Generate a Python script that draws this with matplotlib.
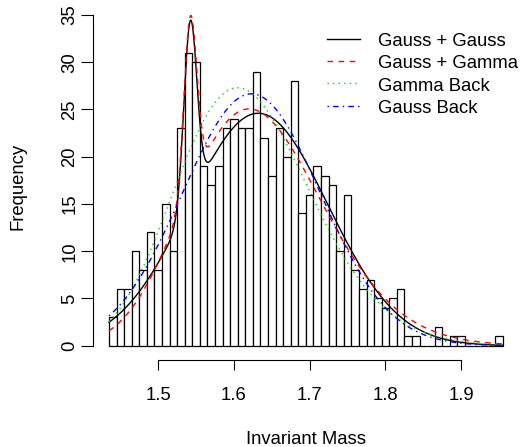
import math
import numpy as np
import matplotlib
matplotlib.use("Agg")
import matplotlib.pyplot as plt
from matplotlib.lines import Line2D

plt.rcParams['font.family'] = ['Liberation Sans', 'DejaVu Sans']
plt.rcParams['font.size'] = 13.3

# Histogram of invariant mass, bins of width 0.01 starting at 1.435
bin_start = 1.435
bin_width = 0.01
counts = [3, 6, 6, 10, 8, 12, 8, 15, 10, 23,
          31, 30, 19, 17, 19, 23, 24, 23, 23, 29,
          22, 18, 23, 20, 28, 14, 16, 19, 18, 17,
          10, 16, 8, 6, 7, 5, 4, 5, 6, 1,
          1, 0, 0, 2, 0, 1, 1, 0, 0, 0, 0, 1]

# Fitted models (signal + background), densities scaled to counts
gg_weights = [0.067, 0.933]
gg_means = [1.5423, 1.632]
gg_sds = [0.0085, 0.092]

gga_weight = 0.064          # signal fraction
gga_mean, gga_sd = 1.5423, 0.0085
gga_shape, gga_scale, gga_loc = 35.0, 0.0155, 1.093

gb_shape, gb_scale, gb_loc = 35.0, 0.0152, 1.088   # gamma background only
nb_mean, nb_sd = 1.623, 0.091                      # gauss background only

labels = ["Gauss + Gauss", "Gauss + Gamma", "Gamma Back", "Gauss Back"]
colors = ["black", "red", "#00dd00", "blue"]
styles = ["-", (0, (4, 4)), (0, (1, 3)), (0, (1, 3, 4, 3))]


def gauss(x, mu, sd):
    return np.exp(-0.5 * ((x - mu) / sd) ** 2) / (sd * math.sqrt(2 * math.pi))


def gamma_pdf(x, k, theta, loc):
    y = np.clip(x - loc, 1e-12, None)
    logf = (k - 1) * np.log(y) - y / theta - math.lgamma(k) - k * math.log(theta)
    return np.exp(logf)


counts = np.array(counts)
edges = bin_start + bin_width * np.arange(len(counts))
scale = counts.sum() * bin_width
xs = np.linspace(bin_start, bin_start + bin_width * len(counts), 600)

curves = [
    scale * sum(w * gauss(xs, m, s) for w, m, s in zip(gg_weights, gg_means, gg_sds)),
    scale * (gga_weight * gauss(xs, gga_mean, gga_sd)
             + (1 - gga_weight) * gamma_pdf(xs, gga_shape, gga_scale, gga_loc)),
    scale * gamma_pdf(xs, gb_shape, gb_scale, gb_loc),
    scale * gauss(xs, nb_mean, nb_sd),
]

W, H = 522, 447
fig = plt.figure(figsize=(W / 100, H / 100), dpi=100)
ax = fig.add_axes([93.3 / W, 1 - 360 / H, (518.4 - 93.3) / W, (360 - 5.5) / H])

ax.bar(edges, counts, width=bin_width, align='edge', facecolor='white',
       edgecolor='black', linewidth=0.9)
for y, c, ls in zip(curves, colors, styles):
    ax.plot(xs, y, color=c, linestyle=ls, linewidth=1.0)

ax.set_xlim(1.4142, 1.9756)
ax.set_ylim(-1.513, 36.0)
ax.set_xticks([1.5, 1.6, 1.7, 1.8, 1.9])
ax.set_xticklabels(["1.5", "1.6", "1.7", "1.8", "1.9"])
ax.set_yticks(range(0, 36, 5))
ax.set_yticklabels([str(v) for v in range(0, 36, 5)], rotation=90, va='center')
ax.tick_params(axis='x', length=7.2, width=0.8, pad=12)
ax.tick_params(axis='y', length=8.4, width=0.8, pad=2.5)
for side in ['top', 'right']:
    ax.spines[side].set_visible(False)
ax.spines['bottom'].set_bounds(1.5, 1.9)
ax.spines['left'].set_bounds(0, 35)
ax.spines['bottom'].set_linewidth(0.8)
ax.spines['left'].set_linewidth(0.8)

fig.text(305.9 / W, 1 - 439 / H, "Invariant Mass", ha='center', va='center')
fig.text(18 / W, 1 - 186 / H, "Frequency", ha='center', va='center', rotation=90)

# legend without a box, drawn in pixel positions
for i, (lab, c, ls) in enumerate(zip(labels, colors, styles)):
    yc = 38.5 + 22.5 * i
    fig.add_artist(Line2D([326.7 / W, 360 / W], [1 - yc / H, 1 - yc / H],
                          color=c, linestyle=ls, linewidth=1.0,
                          transform=fig.transFigure))
    fig.text(378.3 / W, 1 - (yc + 7.3) / H, lab, ha='left', va='baseline')

fig.savefig("out.png", dpi=100)
